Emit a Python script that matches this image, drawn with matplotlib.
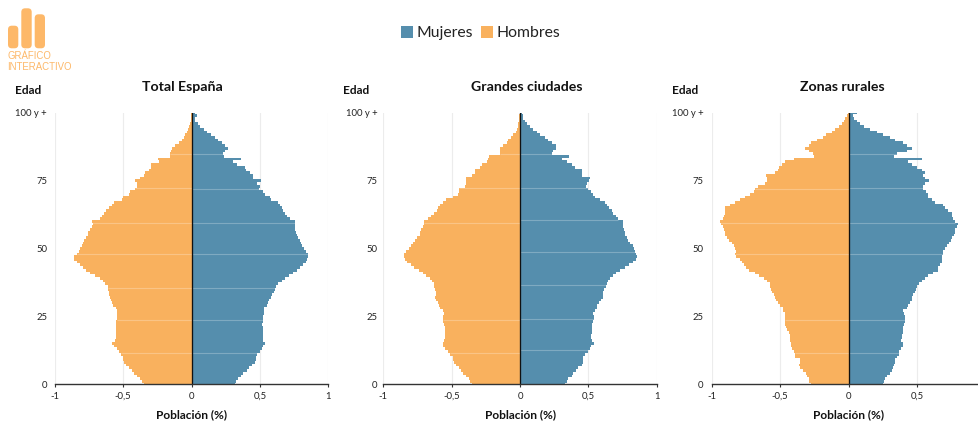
#!/usr/bin/env python3
"""Piramides de poblacion: Total Espana, grandes ciudades y zonas rurales."""

import matplotlib
matplotlib.use("Agg")
import matplotlib.pyplot as plt
import numpy as np
from matplotlib.patches import FancyBboxPatch

plt.rcParams['font.family'] = ['Lato', 'DejaVu Sans']

W, H = 979, 423
BLUE = "#558EAD"
ORANGE = "#F9B15E"
LOGO = "#FDB869"
INK = "#222222"

ages = np.arange(101)

total_mujeres = [
    .32, .326, .343, .36, .38, .404, .423, .445, .465, .472,
    .47, .48, .50, .513, .525, .54, .525, .52, .52, .52,
    .52, .52, .518, .52, .52, .525, .528, .53, .53, .55,
    .56, .57, .58, .585, .60, .61, .618, .635, .66, .685,
    .71, .745, .77, .795, .815, .84, .845, .855, .85, .84,
    .82, .81, .80, .79, .775, .77, .765, .76, .755, .755,
    .76, .72, .70, .685, .67, .66, .645, .63, .58, .575,
    .54, .525, .49, .50, .477, .51, .453, .45, .43, .40,
    .39, .33, .30, .36, .235, .23, .245, .27, .245, .22,
    .197, .173, .14, .11, .09, .063, .045, .027, .027, .04,
    .025]
total_hombres = [
    .345, .36, .38, .40, .42, .435, .46, .48, .495, .50,
    .50, .515, .528, .545, .565, .58, .557, .552, .552, .552,
    .555, .552, .552, .555, .543, .545, .545, .545, .552, .577,
    .58, .586, .594, .60, .606, .61, .613, .63, .647, .67,
    .703, .74, .77, .793, .817, .84, .856, .856, .84, .825,
    .813, .803, .793, .783, .77, .76, .754, .74, .727, .723,
    .727, .667, .655, .637, .623, .606, .58, .565, .51, .50,
    .46, .45, .41, .395, .40, .416, .375, .35, .338, .314,
    .297, .297, .234, .248, .156, .156, .15, .143, .12, .095,
    .07, .058, .046, .034, .022, .015, .01, .007, .005, .005,
    .003]

ciudades_mujeres = [
    .33, .34, .353, .377, .39, .41, .426, .45, .457, .457,
    .462, .475, .50, .51, .515, .54, .523, .518, .518, .523,
    .528, .528, .523, .535, .54, .54, .535, .547, .56, .565,
    .58, .59, .608, .608, .603, .615, .628, .632, .64, .657,
    .68, .70, .73, .766, .798, .827, .847, .852, .847, .84,
    .83, .827, .80, .79, .78, .77, .766, .76, .755, .755,
    .755, .712, .70, .68, .67, .652, .632, .62, .584, .547,
    .53, .515, .50, .48, .487, .506, .51, .45, .45, .45,
    .40, .377, .34, .304, .36, .23, .243, .263, .263, .23,
    .207, .18, .146, .12, .097, .073, .053, .036, .024, .02,
    .017]
ciudades_hombres = [
    .353, .365, .377, .394, .414, .433, .45, .47, .48, .487,
    .494, .51, .53, .547, .565, .567, .555, .552, .552, .552,
    .547, .547, .555, .567, .567, .565, .555, .567, .584, .59,
    .60, .613, .62, .613, .615, .62, .628, .632, .645, .66,
    .686, .713, .742, .773, .80, .827, .84, .846, .846, .835,
    .815, .80, .783, .768, .75, .735, .735, .723, .71, .706,
    .706, .67, .652, .628, .61, .603, .584, .56, .54, .487,
    .457, .445, .443, .40, .394, .394, .394, .353, .333, .328,
    .292, .28, .243, .236, .23, .146, .146, .146, .122, .097,
    .085, .068, .05, .03, .024, .017, .012, .01, .007, .005,
    .003]

rurales_mujeres = [
    .255, .26, .27, .28, .304, .316, .328, .336, .34, .34,
    .353, .37, .372, .382, .40, .40, .382, .39, .394, .40,
    .396, .40, .406, .413, .413, .413, .408, .40, .425, .438,
    .45, .462, .462, .474, .487, .494, .50, .518, .535, .56,
    .584, .62, .652, .652, .67, .68, .68, .68, .69, .693,
    .705, .718, .737, .75, .76, .774, .78, .78, .79, .80,
    .78, .766, .76, .76, .73, .705, .688, .633, .61, .584,
    .584, .567, .547, .547, .56, .59, .56, .547, .56, .535,
    .50, .462, .438, .535, .333, .353, .426, .462, .426, .397,
    .34, .304, .255, .207, .158, .11, .085, .06, .04, .036,
    .06]
rurales_hombres = [
    .275, .287, .287, .30, .311, .333, .353, .365, .353, .353,
    .39, .39, .40, .413, .42, .42, .426, .43, .43, .438,
    .45, .455, .462, .467, .467, .462, .467, .48, .482, .50,
    .518, .528, .538, .547, .56, .565, .572, .577, .596, .62,
    .657, .686, .73, .747, .766, .78, .796, .82, .827, .82,
    .827, .835, .85, .876, .888, .90, .90, .907, .917, .93,
    .937, .92, .913, .905, .905, .90, .868, .827, .79, .754,
    .722, .688, .68, .664, .608, .596, .596, .60, .54, .518,
    .51, .487, .462, .40, .25, .26, .29, .316, .29, .275,
    .23, .183, .165, .122, .097, .073, .05, .032, .022, .012,
    .007]

# costuras claras entre filas de barras
total_seams_m = [11.3, 23.6, 35.3, 47.9, 59.5, 72.0, 84.7]
total_seams_h = [11.3, 23.6, 35.3, 47.9, 59.5, 72.5, 84.7]
ciudades_seams_m = [12.5, 24.0, 36.4, 48.6, 60.7, 72.5, 84.7]
ciudades_seams_h = [11.3, 23.6, 59.5, 72.5, 84.7]
rurales_seams_m = [11.3, 23.6, 47.8, 59.5, 72.5, 84.7]
rurales_seams_h = [11.3, 23.6, 47.8, 59.5, 71.8]

panel_titles = ["Total España", "Grandes ciudades", "Zonas rurales"]
x_ticks = [-1, -0.5, 0, 0.5, 1]
x_ticklabels = ["-1", "-0,5", "0", "0,5", "1"]
y_ticks = [0, 25, 50, 75, 100]
y_ticklabels = ["0", "25", "50", "75", "100 y +"]

panels = [
    (total_mujeres, total_hombres, total_seams_m, total_seams_h),
    (ciudades_mujeres, ciudades_hombres, ciudades_seams_m, ciudades_seams_h),
    (rurales_mujeres, rurales_hombres, rurales_seams_m, rurales_seams_h),
]
# pixel positions: left edge of axis, left edge of "Edad", title centre, y tick pad
panel_left = [54.7, 383.3, 711.7]
edad_left = [15, 343, 672]
title_centre = [182.5, 527, 842.5]
tick_pad = [5.5, 4.0, 6.0]
AX_W, AX_TOP, AX_BOTTOM = 273.6, 113, 384


def draw_panel(fig, i):
    women, men, seams_w, seams_m = panels[i]
    left = panel_left[i]
    ax = fig.add_axes([left / W, 1 - AX_BOTTOM / H, AX_W / W,
                       (AX_BOTTOM - AX_TOP) / H])
    ax.barh(ages, women, height=1.0, color=BLUE, linewidth=0, zorder=2,
            label="Mujeres")
    ax.barh(ages, -np.array(men), height=1.0, color=ORANGE, linewidth=0,
            zorder=2, label="Hombres")
    for age in seams_w:
        ax.hlines(age, 0, women[int(round(age))], color="white", alpha=0.25,
                  linewidth=0.8, zorder=3)
    for age in seams_m:
        ax.hlines(age, -men[int(round(age))], 0, color="white", alpha=0.25,
                  linewidth=0.8, zorder=3)
    ax.axvline(0, color="#111111", linewidth=0.95, zorder=4)
    ax.set_xlim(-1, 1)
    ax.set_ylim(0, 100)
    ax.grid(axis="x", color="#ececec", linewidth=0.8, zorder=0)
    ax.set_axisbelow(True)
    for side in ("top", "left", "right"):
        ax.spines[side].set_visible(False)
    ax.spines["bottom"].set_color("#333333")
    ax.spines["bottom"].set_linewidth(1.0)
    ax.spines["bottom"].set_zorder(5)
    ax.set_xticks(x_ticks)
    labels = list(x_ticklabels)
    if i == 2:
        labels[-1] = ""  # queda fuera de la imagen
    ax.set_xticklabels(labels, fontsize=6.8, color=INK)
    ax.set_yticks(y_ticks)
    ax.set_yticklabels(y_ticklabels, fontsize=6.8, color=INK)
    ax.tick_params(axis="x", length=2.5, width=0.8, color="#333333", pad=3)
    ax.tick_params(axis="y", length=0, pad=tick_pad[i])

    centre = left + AX_W / 2
    fig.text(title_centre[i] / W, 1 - 87 / H, panel_titles[i], fontsize=10.2,
             fontweight="bold", ha="center", va="center", color="#111111")
    fig.text(centre / W, 1 - 415 / H, "Población (%)", fontsize=8.6,
             fontweight="bold", ha="center", va="center", color="#111111")
    fig.text(edad_left[i] / W, 1 - 91 / H, "Edad", fontsize=8.6,
             fontweight="bold", ha="left", va="center", color="#111111")
    return ax


def draw_logo(fig):
    ax = fig.add_axes([0, 0, 1, 1], zorder=10)
    ax.set_xlim(0, W)
    ax.set_ylim(H, 0)
    ax.axis("off")
    for x0, x1, y0 in [(8, 18.3, 25.7), (21.3, 31.7, 8.3), (34.7, 45, 14.3)]:
        r = 3.8
        ax.add_patch(FancyBboxPatch(
            (x0 + r, y0 + r), x1 - x0 - 2 * r, 48.3 - y0 - 2 * r,
            boxstyle=f"round,pad={r},rounding_size={r}",
            facecolor=LOGO, edgecolor="none"))
    for y, txt in [(56, "GRÁFICO"), (67.5, "INTERACTIVO")]:
        ax.text(7.5, y, txt, fontsize=6.9, family="Liberation Sans",
                color=LOGO, ha="left", va="center")


def main():
    fig = plt.figure(figsize=(W / 100, H / 100), dpi=100, facecolor="white")
    axes = [draw_panel(fig, i) for i in range(3)]
    handles, labels = axes[0].get_legend_handles_labels()
    fig.legend(handles, labels, ncol=2, frameon=False, fontsize=11.3,
               loc="center", bbox_to_anchor=(480.5 / W, 1 - 33 / H),
               handlelength=0.78, handleheight=0.78, handletextpad=0.2,
               columnspacing=0.55, labelcolor="#222222")
    draw_logo(fig)
    fig.savefig("out.png", dpi=100)
    plt.close(fig)


if __name__ == '__main__':
    main()
